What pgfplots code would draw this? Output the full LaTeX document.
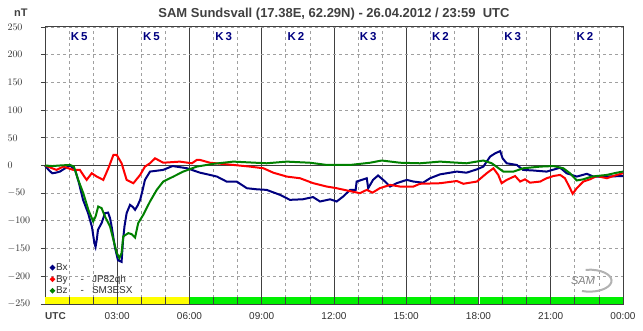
\documentclass[border=0pt]{standalone}
\usepackage{fontspec}
\setmainfont{Liberation Sans}
\usepackage{pgfplots}
\pgfplotsset{compat=1.18}
\definecolor{axgray}{HTML}{404040}
\definecolor{txtgray}{HTML}{303030}
\definecolor{gridgray}{HTML}{A0A0A0}
\definecolor{kblue}{HTML}{000080}
\definecolor{bxc}{HTML}{000080}
\definecolor{byc}{HTML}{FF0000}
\definecolor{bzc}{HTML}{008000}
\definecolor{bandyellow}{HTML}{FFFF00}
\definecolor{bandgreen}{HTML}{00F000}
\begin{document}
\begin{tikzpicture}
\path[use as bounding box] (0,0) rectangle (643bp,331bp);
\begin{axis}[
  at={(45bp,27bp)}, anchor=south west,
  scale only axis, width=578bp, height=277bp,
  xmin=0, xmax=24, ymin=-250, ymax=250,
  xtick={0,3,...,24},
  xticklabels={,03:00,06:00,09:00,12:00,15:00,18:00,21:00,00:00},
  minor xtick={1,2,4,5,7,8,10,11,13,14,16,17,19,20,22,23},
  ytick={-250,-200,...,250},
  grid=both,
  major x grid style={solid, axgray, line width=0.8bp},
  minor x grid style={gridgray, line width=0.8bp, dash pattern=on 3bp off 3bp},
  major y grid style={gridgray, line width=0.8bp, dash pattern=on 3bp off 3bp},
  xtick style={draw=none},
  minor tick length=0pt,
  ytick style={axgray, line width=0.8bp},
  tick align=outside, ytick pos=left,
  major tick length=4bp,
  axis line style={axgray, line width=1bp},
  tick label style={font=\fontsize{10bp}{12bp}\selectfont, text=txtgray},
  yticklabel style={anchor=west, xshift=-37bp},
  xticklabel style={yshift=-1bp},
  legend style={draw=none, fill=none, at={(axis cs:0.2,-236)}, anchor=south west,
    font=\fontsize{10bp}{12bp}\selectfont, text=txtgray, inner sep=0pt,
    row sep=1bp, nodes={inner sep=1bp}},
  legend cell align=left,
  legend image code/.code={\fill[#1] (0.08cm,0) circle (1.5bp);},
  clip=false,
]
% grid zero line
\draw[axgray, line width=0.8bp] (axis cs:0,0) -- (axis cs:24,0);
% activity band
\fill[bandyellow] (axis cs:0,-250) rectangle (axis cs:6,-237.5);
\fill[bandgreen] (axis cs:6,-250) rectangle (axis cs:18,-237.5);
\fill[bandgreen] (axis cs:18.08,-250) rectangle (axis cs:24,-237.5);
\pgfplotsinvokeforeach{1,...,23}{\draw[axgray, line width=0.8bp] (axis cs:#1,-250) -- (axis cs:#1,-237.5);}
% K labels
\tikzset{klab/.style={kblue, font=\fontsize{11.5bp}{13bp}\selectfont\bfseries}}
\node[klab] at (axis cs:1.42,233.5) {K\,5};
\node[klab] at (axis cs:4.42,233.5) {K\,5};
\node[klab] at (axis cs:7.42,233.5) {K\,3};
\node[klab] at (axis cs:10.42,233.5) {K\,2};
\node[klab] at (axis cs:13.42,233.5) {K\,3};
\node[klab] at (axis cs:16.42,233.5) {K\,2};
\node[klab] at (axis cs:19.42,233.5) {K\,3};
\node[klab] at (axis cs:22.42,233.5) {K\,2};

\addplot[bxc, line width=2bp] coordinates {
(0,0) (0.15,-8) (0.3,-14) (0.45,-13) (0.62,-11) (0.8,-6) (1.04,0) (1.25,-8) (1.4,-30) (1.58,-62) (1.79,-86) (1.95,-111) (2.05,-140) (2.1,-147) (2.15,-134) (2.2,-116) (2.35,-104) (2.49,-86) (2.62,-85) (2.7,-95) (2.77,-111) (2.9,-147) (3.03,-171) (3.18,-174) (3.24,-135) (3.3,-110) (3.39,-86) (3.53,-71) (3.65,-75) (3.74,-80) (3.85,-72) (3.95,-62) (4.05,-45) (4.15,-26) (4.36,-11) (4.9,-8) (5.3,-1) (5.9,-5) (6.44,-13) (6.85,-17) (7.14,-20) (7.54,-29) (7.96,-29) (8.38,-41) (8.8,-43) (9.2,-44) (9.76,-53) (10.17,-62) (10.7,-61) (11.13,-57) (11.42,-65) (11.84,-61) (12.11,-65) (12.38,-56) (12.67,-44) (12.9,-44) (12.94,-29) (13.36,-23) (13.42,-41) (13.62,-26) (13.83,-18) (14.12,-29) (14.33,-38) (14.6,-32) (15.02,-26) (15.3,-29) (15.7,-31) (15.99,-23) (16.4,-16) (17.1,-11) (17.5,-13) (17.93,-7) (18.2,-2) (18.48,16) (18.69,22) (18.9,26) (19.0,13) (19.17,4) (19.59,1) (19.85,-8) (20.27,-9) (20.83,-11) (21.39,-4) (21.66,-14) (22.08,-20) (22.5,-15) (22.77,-20) (23.3,-20) (24,-19)
};
\addlegendentry{Bx}
\addplot[byc, line width=2bp] coordinates {
(0,0) (0.48,-8) (0.76,-2) (1.18,-8) (1.45,-8) (1.6,-18) (1.73,-26) (1.94,-14) (2.15,-20) (2.42,-26) (2.63,-5) (2.84,19) (2.98,19) (3.18,4) (3.39,-26) (3.67,-32) (3.95,-17) (4.15,-2) (4.36,4) (4.57,13) (4.91,5) (5.6,7) (6.1,4) (6.3,10) (6.44,10) (6.85,5) (7.82,1) (8.51,-2) (9.07,-5) (9.48,-13) (10.04,-20) (10.59,-23) (11.14,-32) (11.7,-38) (12.11,-41) (12.53,-45) (13.08,-50) (13.36,-44) (13.6,-49) (13.9,-41) (14.33,-35) (14.74,-38) (15.3,-38) (15.57,-33) (16.4,-32) (17.1,-28) (17.37,-33) (17.93,-29) (18.34,-14) (18.62,-5) (18.82,-17) (18.96,-32) (19.17,-26) (19.52,-19) (19.73,-29) (19.93,-25) (20.14,-31) (20.56,-29) (20.83,-23) (21.11,-19) (21.39,-17) (21.59,-23) (21.8,-41) (21.91,-51) (22.08,-41) (22.35,-29) (22.63,-25) (22.91,-19) (23.33,-23) (23.74,-17) (24,-14)
};
\addlegendentry{By\hspace{13bp}-\hspace{8bp}JP82qh}
\addplot[bzc, line width=2bp] coordinates {
(0,0) (0.3,-1) (0.62,0) (1.04,1) (1.2,-2) (1.38,-26) (1.59,-50) (1.8,-80) (2.0,-101) (2.1,-92) (2.21,-74) (2.35,-77) (2.49,-92) (2.7,-110) (2.84,-134) (2.98,-158) (3.09,-167) (3.18,-158) (3.25,-128) (3.46,-122) (3.6,-124) (3.74,-130) (3.87,-104) (4.08,-89) (4.36,-65) (4.64,-44) (4.91,-29) (5.33,-20) (5.74,-11) (6.3,-2) (6.99,3) (7.82,7) (9.2,4) (10.04,7) (11,5) (11.7,1) (12.67,1) (13.5,5) (13.98,9) (14.74,5) (15.57,4) (16.4,7) (17.5,4) (18.2,9) (18.55,4) (19.03,-11) (19.45,-11) (19.86,-5) (20.56,-2) (21.11,-1) (21.52,-5) (21.8,-14) (22.08,-27) (22.35,-25) (22.7,-20) (23.33,-17) (23.74,-13) (24,-11)
};
\addlegendentry{Bz\hspace{13bp}-\hspace{8bp}SM3ESX}
\end{axis}
% title and labels outside axis
\node[text=axgray, font=\fontsize{13bp}{15bp}\selectfont\bfseries] at (334bp,317bp) {SAM Sundsvall (17.38E, 62.29N) - 26.04.2012 / 23:59\ \ UTC};
\node[anchor=west, text=axgray, font=\fontsize{11bp}{12bp}\selectfont\bfseries, inner sep=0pt] at (14bp,318bp) {nT};
\node[anchor=west, text=axgray, font=\fontsize{10bp}{12bp}\selectfont\bfseries, inner sep=0pt] at (45bp,15bp) {UTC};
% SAM logo
\draw[gray!60, line width=2bp] (582bp,40bp) arc[start angle=-110, end angle=100, x radius=22bp, y radius=11bp];
\node[text=gray, font=\fontsize{11bp}{12bp}\selectfont\itshape] at (583bp,50bp) {SAM};
\end{tikzpicture}
\end{document}
